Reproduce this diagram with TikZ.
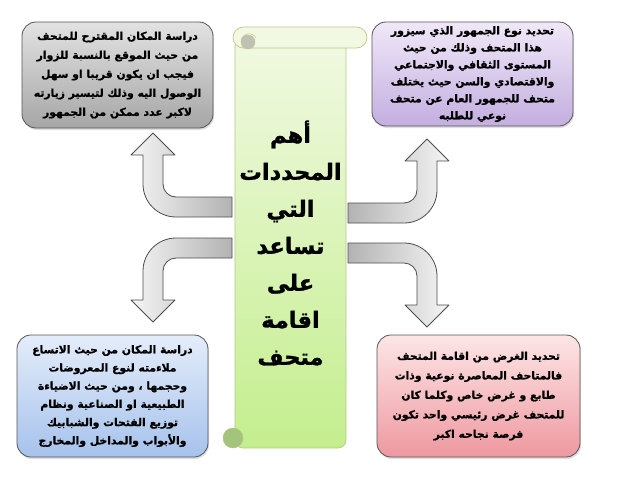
\documentclass[tikz,border=0pt]{standalone}
\usepackage{fontspec}
\usetikzlibrary{shadows}
\newfontfamily\arabicfont[Script=Arabic, BoldFeatures={FakeBold=1.2}]{DejaVu Sans}
\TeXXeTstate=1
\newcommand{\rl}[1]{\beginR #1\endR}

\definecolor{boxline}{HTML}{555555}
\definecolor{arrowline}{HTML}{4D4D4D}
\definecolor{graytop}{HTML}{E2E2E2}
\definecolor{graybot}{HTML}{A6A6A6}
\definecolor{lilactop}{HTML}{F0E8F8}
\definecolor{lilacbot}{HTML}{C3AEE0}
\definecolor{bluetop}{HTML}{E4EDFA}
\definecolor{bluebot}{HTML}{A6C2EC}
\definecolor{pinktop}{HTML}{FDE6E6}
\definecolor{pinkbot}{HTML}{EE98A0}
\definecolor{scrolltop}{HTML}{F1F9E2}
\definecolor{scrollbot}{HTML}{C4EE8E}
\definecolor{scrollline}{HTML}{B4C98A}
\definecolor{rollline}{HTML}{C8C48C}
\definecolor{curl}{HTML}{A4C47C}

% one bent arrow, drawn from the scroll edge at (0,0)
\newcommand{\bentarrow}[1]{%
  \draw[bentarrow, #1] (0,-20) -- (-56,-20)
    .. controls (-63.2,-20) and (-69,-25.8) .. (-69,-33)
    -- (-69,-62) -- (-57,-62) -- (-79,-84) -- (-101,-62) -- (-89,-62)
    -- (-89,-33) .. controls (-89,-14.8) and (-74.2,0) .. (-56,0)
    -- (0,0) -- cycle;}

\begin{document}
\begin{tikzpicture}[x=1pt,y=-1pt,line join=round]
  \tikzstyle{infobox}=[draw=boxline, rounded corners=14pt, line width=0.8pt, align=center, inner sep=2pt,
    font=\arabicfont\bfseries\fontsize{10.8}{19}\selectfont,
    drop shadow={opacity=0.25, shadow xshift=1pt, shadow yshift=-2pt}]
  \tikzstyle{bentarrow}=[draw=arrowline, line width=0.8pt]

  \useasboundingbox (0,0) rectangle (638,479);

  % arrows out of the scroll
  \begin{scope}[shift={(232,217)}]
    \bentarrow{left color=gray!8, right color=gray!60}
  \end{scope}
  \begin{scope}[shift={(348,223)}, xscale=-1]
    \bentarrow{left color=gray!60, right color=gray!8}
  \end{scope}
  \begin{scope}[shift={(232,238)}, yscale=-1]
    \bentarrow{left color=gray!8, right color=gray!60}
  \end{scope}
  \begin{scope}[shift={(348,243)}, xscale=-1, yscale=-1]
    \bentarrow{left color=gray!60, right color=gray!8}
  \end{scope}

  % the scroll
  \node[draw=scrollline, line width=0.7pt, rounded corners=8pt, top color=scrolltop, bottom color=scrollbot,
        minimum width=111pt, minimum height=410pt, inner sep=0pt, align=center,
        font=\arabicfont\bfseries\fontsize{22.5}{37}\selectfont] (title) at (290.5,243)
    {\rl{أهم}\\ \rl{المحددات}\\ \rl{التي}\\ \rl{تساعد}\\ \rl{على}\\ \rl{اقامة}\\ \rl{متحف}};
  \draw[rollline, line width=0.7pt, fill=scrolltop, rounded corners=10.5pt] (233,27) rectangle (367,48);
  \draw[rollline, line width=0.5pt, fill=gray!45!scrolltop] (248,42) circle (7pt);
  \draw[rollline, line width=0.5pt] (241,42) .. controls (241,33) and (253,31) .. (256,38);
  \draw[scrollline, line width=0.5pt, fill=curl] (233,438) circle (10pt);

  % the four boxes
  \node[infobox, top color=graytop, bottom color=graybot, minimum width=191pt, minimum height=106pt]
    (place) at (117.5,75)
    {\rl{دراسة المكان المقترح للمتحف}\\
     \rl{من حيث الموقع بالنسبة للزوار}\\
     \rl{فيجب ان يكون قريبا او سهل}\\
     \rl{الوصول اليه وذلك لتيسير زيارته}\\
     \rl{لاكبر عدد ممكن من الجمهور}};
  \node[infobox, top color=lilactop, bottom color=lilacbot, minimum width=201pt, minimum height=104pt,
        font=\arabicfont\bfseries\fontsize{10.8}{17}\selectfont]
    (public) at (472.5,74)
    {\rl{تحديد نوع الجمهور الذي سيزور}\\
     \rl{هذا المتحف وذلك من حيث}\\
     \rl{المستوى الثقافي والاجتماعي}\\
     \rl{والاقتصادي والسن حيث يختلف}\\
     \rl{متحف للجمهور العام عن متحف}\\
     \rl{نوعي للطلبه}};
  \node[infobox, top color=bluetop, bottom color=bluebot, minimum width=191pt, minimum height=122pt,
        font=\arabicfont\bfseries\fontsize{10.8}{18.2}\selectfont]
    (space) at (112.5,396)
    {\rl{دراسة المكان من حيث الاتساع}\\
     \rl{ملاءمته لنوع المعروضات}\\
     \rl{وحجمها ، ومن حيث الاضياءة}\\
     \rl{الطبيعية او الصناعية ونظام}\\
     \rl{توزيع الفتحات والشبابيك}\\
     \rl{والأبواب والمداخل والمخارج}};
  \node[infobox, top color=pinktop, bottom color=pinkbot, minimum width=203pt, minimum height=122pt,
        font=\arabicfont\bfseries\fontsize{10.8}{19.5}\selectfont]
    (aim) at (478.5,396)
    {\rl{تحديد الغرض من اقامة المتحف}\\
     \rl{فالمتاحف المعاصرة نوعية وذات}\\
     \rl{طابع و غرض خاص وكلما كان}\\
     \rl{للمتحف غرض رئيسي واحد تكون}\\
     \rl{فرصة نجاحه اكبر}};
\end{tikzpicture}
\end{document}
